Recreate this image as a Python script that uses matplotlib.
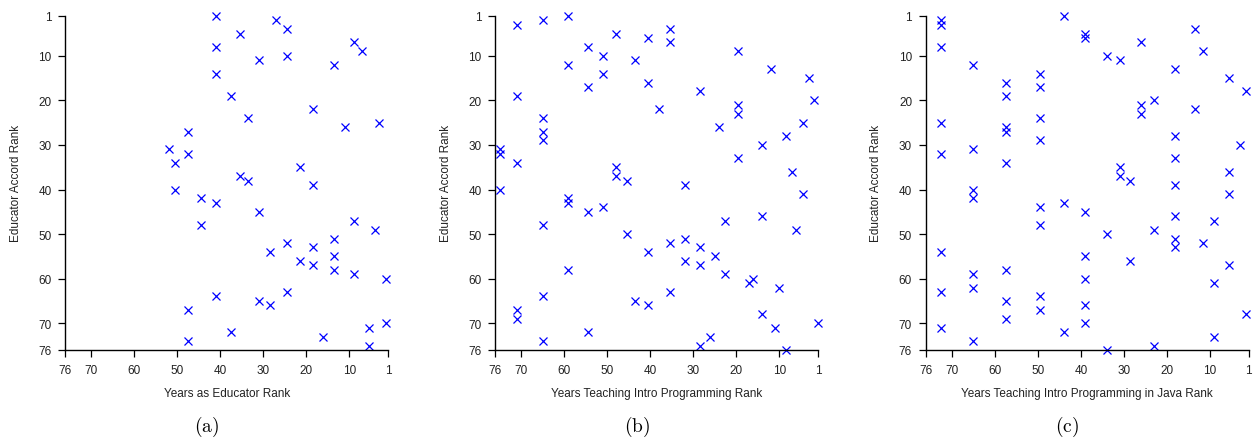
import matplotlib
matplotlib.use("Agg")
import matplotlib.pyplot as plt

plt.rcParams['font.family'] = ['Liberation Sans', 'DejaVu Sans']
plt.rcParams['mathtext.fontset'] = 'cm'

# educator accord rank (y) against three experience ranks (x)
a_y = [1, 2, 4, 5, 7, 8, 9, 10, 11, 12, 14, 19, 22, 24, 25, 26, 27, 31, 32, 34,
       35, 37, 38, 39, 40, 42, 43, 45, 47, 48, 49, 51, 52, 53, 54, 55, 56, 57, 58, 59,
       60, 63, 64, 65, 66, 67, 70, 71, 72, 73, 74, 75]
a_x = [41, 27, 24.5, 35.5, 9, 41, 7, 24.5, 31, 13.5, 41, 37.5, 18.5, 33.5, 3, 11, 47.5, 52, 47.5, 50.5,
       21.5, 35.5, 33.5, 18.5, 50.5, 44.5, 41, 31, 9, 44.5, 4, 13.5, 24.5, 18.5, 28.5, 13.5, 21.5, 18.5, 13.5, 9,
       1.5, 24.5, 41, 31, 28.5, 47.5, 1.5, 5.5, 37.5, 16, 47.5, 5.5]

b_y = list(range(1, 77))
b_x = [59, 65, 71, 35.5, 48, 40.5, 35.5, 54.5, 19.5, 51,
       43.5, 59, 12, 51, 3, 40.5, 54.5, 28.5, 71, 2,
       19.5, 38, 19.5, 65, 4.5, 24, 65, 8.5, 65, 14,
       75, 75, 19.5, 71, 48, 7, 48, 45.5, 32, 75,
       4.5, 59, 59, 51, 54.5, 14, 22.5, 65, 6, 45.5,
       32, 35.5, 28.5, 40.5, 25, 32, 28.5, 59, 22.5, 16,
       17, 10, 35.5, 65, 43.5, 40.5, 71, 14, 71, 1,
       11, 54.5, 26, 65, 28.5, 8.5]

c_y = list(range(1, 77))
c_x = [44, 72.5, 72.5, 13.5, 39, 39, 26, 72.5, 11.5, 34,
       31, 65, 18, 49.5, 5.5, 57.5, 49.5, 1.5, 57.5, 23,
       26, 13.5, 26, 49.5, 72.5, 57.5, 57.5, 18, 49.5, 3,
       65, 72.5, 18, 57.5, 31, 5.5, 31, 28.5, 18, 65,
       5.5, 65, 44, 49.5, 39, 18, 9, 49.5, 23, 34,
       18, 11.5, 18, 72.5, 39, 28.5, 5.5, 57.5, 65, 39,
       9, 65, 72.5, 49.5, 57.5, 39, 49.5, 1.5, 57.5, 39,
       72.5, 44, 9, 65, 23, 34]

panels = [
    (a_x, a_y, "Years as Educator Rank", "(a)"),
    (b_x, b_y, "Years Teaching Intro Programming Rank", "(b)"),
    (c_x, c_y, "Years Teaching Intro Programming in Java Rank", "(c)"),
]
lefts = [0.0521, 0.395, 0.7384]
captions_x = [0.165, 0.508, 0.851]

fig = plt.figure(figsize=(12.54, 4.39), dpi=100)

for (xs, ys, xlabel, cap), left, cx in zip(panels, lefts, captions_x):
    ax = fig.add_axes([left, 0.2005, 0.2573, 0.7615])
    ax.plot(xs, ys, 'x', color='#0000ff', markersize=5.5, markeredgewidth=0.9, clip_on=False)
    ax.set_xlim(76, 1)
    ax.set_ylim(76, 1)
    ax.set_xticks([76, 70, 60, 50, 40, 30, 20, 10, 1])
    ax.set_yticks([1, 10, 20, 30, 40, 50, 60, 70, 76])
    ax.spines['top'].set_visible(False)
    ax.spines['right'].set_visible(False)
    ax.spines['left'].set_linewidth(1.0)
    ax.spines['bottom'].set_linewidth(1.0)
    ax.tick_params(direction='out', length=5, width=0.9, pad=5,
                   labelsize=8.5, labelcolor='#222222')
    ax.set_xlabel(xlabel, fontsize=8.5, color='#222222')
    ax.set_ylabel("Educator Accord Rank", fontsize=8.5, color='#222222')
    ax.xaxis.set_label_coords(0.5, -0.112)
    ax.yaxis.set_label_coords(-0.135, 0.5)
    fig.text(cx, 0.027, r'$\mathrm{' + cap + '}$', ha='center', va='center', fontsize=14)

fig.savefig("out.png", dpi=100)
